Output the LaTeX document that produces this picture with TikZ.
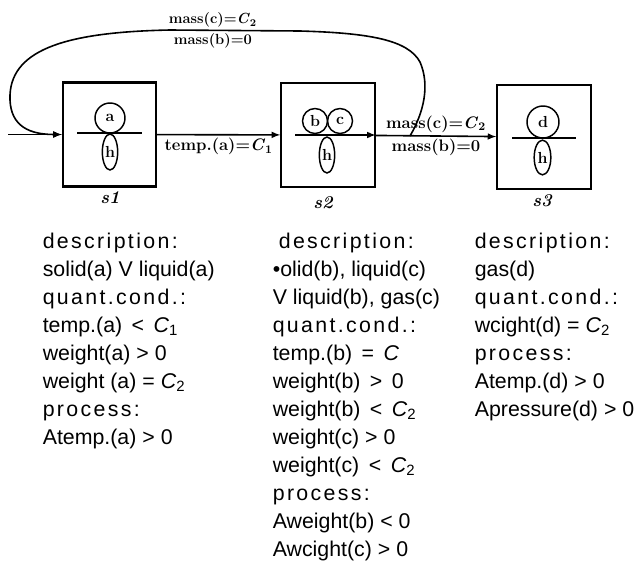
\documentclass[tikz,border=0pt]{standalone}
\usepackage{fontspec}
\usepackage{tikz}
\usetikzlibrary{shapes.geometric}
\newfontfamily\colfont{Liberation Sans}
\newfontfamily\headfont[LetterSpace=11]{Liberation Sans}
\newcommand{\Csub}[1]{\textit{C}\textsubscript{#1}}

\begin{document}
\begin{tikzpicture}[x=0.75pt, y=-0.75pt,
  state/.style={draw, line width=1.6pt, minimum width=70pt, minimum height=78pt, inner sep=0pt},
  obj/.style={draw, circle, line width=1.1pt, inner sep=0pt, font=\bfseries\fontsize{12}{13}\selectfont},
  part/.style={draw, ellipse, line width=1.1pt, inner sep=0pt, minimum width=11.5pt, minimum height=27pt, font=\bfseries\fontsize{12}{13}\selectfont},
  lab/.style={font=\bfseries\fontsize{12.5}{14}\selectfont, inner sep=2pt},
  toplab/.style={font=\bfseries\fontsize{11}{13}\selectfont, inner sep=1.5pt},
  slab/.style={font=\bfseries\itshape\fontsize{13.5}{15}\selectfont},
  col/.style={anchor=north west, align=left, inner sep=0pt, font=\colfont\fontsize{16}{21}\selectfont},
  >=latex, line width=1.2pt]
\useasboundingbox (0,0) rectangle (642,561);

% states
\node [state] (s1) at (109.5,134.5) {};
\node [state] (s2) at (328,135) {};
\node [state] (s3) at (544,137) {};
\node [slab] (s1lab) at (110,198) {s1};
\node [slab] (s2lab) at (323,203) {s2};
\node [slab] (s3lab) at (542,201) {s3};

% contents of s1
\draw (77,133) -- (142,133);
\node [obj, minimum size=22.5pt] (a) at (110,118) {a};
\node [part] (h1) at (110,152) {h};

% contents of s2
\draw [->] (295,135) -- (s2.east);
\node [obj, minimum size=18.75pt] (b) at (315,121) {b};
\node [obj, minimum size=18.75pt] (c) at (340,121) {c};
\node [part] (h2) at (327,155) {h};

% contents of s3
\draw (512,138) -- (576,138);
\node [obj, minimum size=24pt] (d) at (543,122) {d};
\node [part, minimum width=12.5pt, minimum height=26pt] (h3) at (542.5,157.5) {h};

% transitions
\coordinate (in) at (8,134.5);
\coordinate (back) at (410,136);
\path [->] (in) edge (s1);
\path [->] (s1) edge node[below, lab] {temp.(a)=\Csub{1}} (s2);
\path [->] (s2) edge node[above, lab] {mass(c)=\Csub{2}}
                     node[below, lab] {mass(b)=0} (s3);
\draw [->] (back) .. controls (424,112) and (430,85) .. (420,62)
  .. controls (408,40) and (370,33) .. (300,31)
  -- node[pos=0.67, above, toplab] {mass(c)=\Csub{2}}
     node[pos=0.67, below, toplab] {mass(b)=0} (170,30)
  .. controls (70,32) and (12,48) .. (10,95)
  .. controls (9,122) and (24,134.5) .. (s1.west);

% descriptions
\node [col] (desc1) at (42,232) {{\headfont description:}\\
  solid(a) V liquid(a)\\
  {\headfont quant.cond.:}\\
  temp.(a) \,<\, \Csub{1}\\
  weight(a) > 0\\
  weight (a) = \Csub{2}\\
  {\headfont process:}\\
  Atemp.(a) > 0};
\node [col] (desc2) at (272,232) {\hspace*{4.5pt}{\headfont description:}\\
  •olid(b), liquid(c)\\
  V liquid(b), gas(c)\\
  {\headfont quant.cond.:}\\
  temp.(b) \,=\, \textit{C}\\
  weight(b) \,>\, 0\\
  weight(b) \,<\, \Csub{2}\\
  weight(c) > 0\\
  weight(c) \,<\, \Csub{2}\\
  {\headfont process:}\\
  Aweight(b) < 0\\
  Awcight(c) > 0};
\node [col] (desc3) at (474,232) {{\headfont description:}\\
  gas(d)\\
  {\headfont quant.cond.:}\\
  wcight(d) = \Csub{2}\\
  {\headfont process:}\\
  Atemp.(d) > 0\\
  Apressure(d) > 0};
\end{tikzpicture}
\end{document}
